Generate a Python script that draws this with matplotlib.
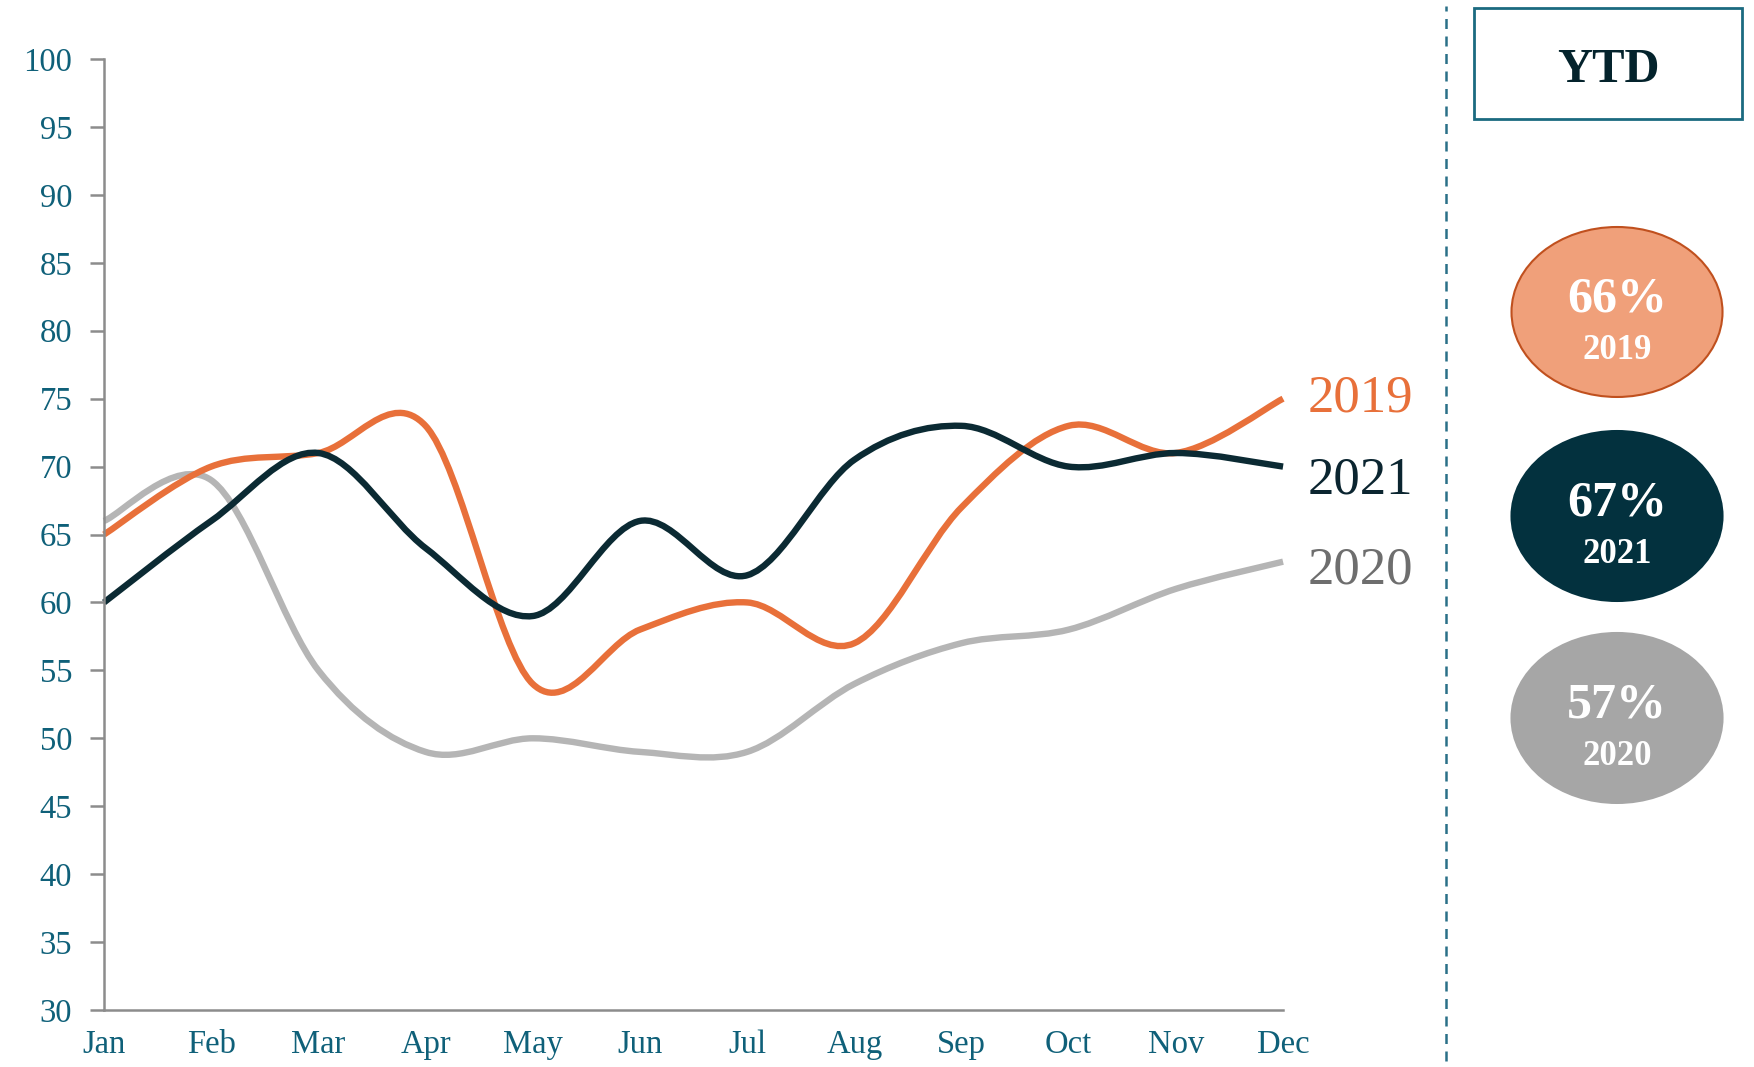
import matplotlib
matplotlib.use("Agg")
import matplotlib.pyplot as plt
from matplotlib.path import Path
from matplotlib.patches import PathPatch, Ellipse, Rectangle
from matplotlib.lines import Line2D

plt.rcParams['font.family'] = ['Liberation Serif', 'DejaVu Serif']

# data
months = ['Jan', 'Feb', 'Mar', 'Apr', 'May', 'Jun', 'Jul', 'Aug', 'Sep', 'Oct', 'Nov', 'Dec']
y2019 = [65, 70, 71, 73, 54, 58, 60, 57, 67, 73, 71, 75]
y2021 = [60, 66, 71, 64, 59, 66, 62, 70.5, 73, 70, 71, 70]
y2020 = [66, 69, 55, 49, 50, 49, 49, 54, 57, 58, 61, 63]
ytd_labels = ['66%', '67%', '57%']
ytd_years = ['2019', '2021', '2020']

c2019 = '#E8703A'
c2021 = '#0B2A33'
c2020 = '#B5B5B5'
teal = '#0F6079'


def smooth_path(ys):
    # excel style smoothed line: cubic bezier through every point
    xs = list(range(len(ys)))
    pts = list(zip(xs, ys))
    verts = [pts[0]]
    codes = [Path.MOVETO]
    n = len(pts)
    for i in range(n - 1):
        p0 = pts[i - 1] if i > 0 else pts[i]
        p1 = pts[i]
        p2 = pts[i + 1]
        p3 = pts[i + 2] if i + 2 < n else pts[i + 1]
        c1 = (p1[0] + (p2[0] - p0[0]) / 6, p1[1] + (p2[1] - p0[1]) / 6)
        c2 = (p2[0] - (p3[0] - p1[0]) / 6, p2[1] - (p3[1] - p1[1]) / 6)
        verts += [c1, c2, p2]
        codes += [Path.CURVE4] * 3
    return Path(verts, codes)


fig = plt.figure(figsize=(17.54, 10.67), dpi=100)
ax = fig.add_axes([0.0593, 0.0534, 0.6722, 0.8913])

for ys, col in [(y2020, c2020), (y2019, c2019), (y2021, c2021)]:
    ax.add_patch(PathPatch(smooth_path(ys), facecolor='none', edgecolor=col,
                           lw=4.6, capstyle='butt', clip_on=False))

ax.set_xlim(0, 11)
ax.set_ylim(30, 100)
ax.set_yticks(range(30, 101, 5))
ax.set_xticks(range(12))
ax.set_xticklabels(months)

for s in ['top', 'right']:
    ax.spines[s].set_visible(False)
for s in ['left', 'bottom']:
    ax.spines[s].set_color('#8C8C8C')
    ax.spines[s].set_linewidth(1.8)

ax.tick_params(axis='y', length=10, width=1.8, color='#8C8C8C', pad=13,
               labelsize=23.5, labelcolor=teal)
ax.tick_params(axis='x', length=0, pad=14, labelsize=23.5, labelcolor=teal)

# series labels at line ends (nudged apart like the original)
for ys, txt, col, dy in [(y2019, '2019', c2019, 0), (y2021, '2021', '#0B2530', -10),
                         (y2020, '2020', '#6E6E6E', -6)]:
    ax.annotate(txt, xy=(11, ys[-1]), xytext=(18, dy), textcoords='offset points',
                va='center', ha='left', fontsize=38, color=col, annotation_clip=False)

# dashed separator
fig.add_artist(Line2D([0.8244, 0.8244], [0.006, 0.994], transform=fig.transFigure,
                      color='#2A7088', lw=1.8, ls=(0, (4, 3))))

# YTD box
fig.add_artist(Rectangle((0.8404, 0.8885), 0.1528, 0.104, transform=fig.transFigure,
                         facecolor='white', edgecolor='#1B6A80', lw=2))
fig.text(0.9168, 0.934, 'YTD', ha='center', va='center', fontsize=35,
         fontweight='bold', color='#04232C')

# YTD ellipses
ell_y = [0.7076, 0.5164, 0.3271]
ell_fc = ['#F0A07A', '#03313E', '#A6A6A6']
ell_ec = ['#C0501E', '#03313E', '#A6A6A6']
for cy, fc, ec, pct, yr in zip(ell_y, ell_fc, ell_ec, ytd_labels, ytd_years):
    fig.add_artist(Ellipse((0.9219, cy), 0.1203, 0.1593, transform=fig.transFigure,
                           facecolor=fc, edgecolor=ec, lw=1.5))
    fig.text(0.9219, cy + 0.012, pct, ha='center', va='center', fontsize=36,
             fontweight='bold', color='white')
    fig.text(0.9219, cy - 0.036, yr, ha='center', va='center', fontsize=25,
             fontweight='bold', color='white')

fig.savefig('out.png', dpi=100)
